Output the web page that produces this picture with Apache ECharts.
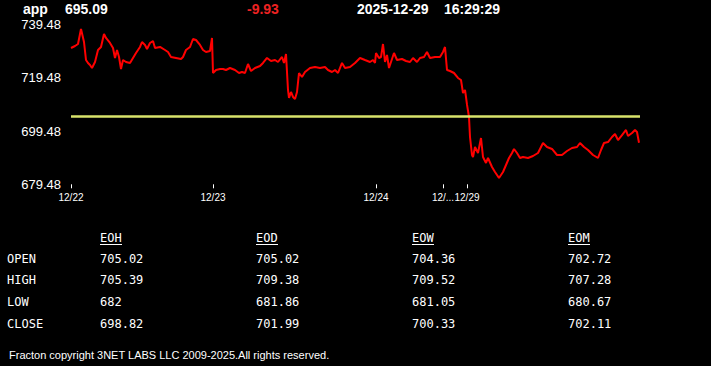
<!DOCTYPE html>
<html>
<head>
<meta charset="utf-8">
<script src="https://cdn.jsdelivr.net/npm/echarts@6/dist/echarts.min.js"></script>
<style>
html,body{margin:0;padding:0;background:#000;}
#chart{width:711px;height:366px;}
</style>
</head>
<body>
<div id="chart"></div>
<script>
// ---- header ----
const symbol = 'app';
const lastPrice = 695.09;
const change = -9.93;
const quoteDate = '2025-12-29';
const quoteTime = '16:29:29';
const prevClose = 705.02;

// ---- x axis: trading sample index, day boundaries ----
const dayLabels = ['12/22', '12/23', '12/24', '12/26', '12/29'];
const dayStart = [0, 142, 305, 372, 396];
const lastIndex = 569;

// ---- y axis ticks ----
const yTicks = [679.48, 699.48, 719.48, 739.48];

// ---- price series (sample index, price) ----
const sampleIdx = [
  0, 4, 7, 10, 13, 15, 17, 19, 21, 24, 27, 30, 33, 35, 39, 42, 44, 46, 48, 50, 52, 55, 59, 62, 65, 69, 71, 74, 76, 79, 82, 84, 89, 94, 97, 100, 105, 110, 112, 115, 119, 122, 125, 129, 132, 135, 139, 141,
  142, 145, 149, 152, 155, 159, 164, 168, 171, 174, 177, 180, 184, 189, 192, 196, 200, 204, 207, 211, 213, 215, 217, 218, 220, 222, 224, 226, 228, 231, 234, 239, 244, 249, 254, 257, 261, 264, 267, 271, 274, 279, 284, 289, 294, 299, 302, 304,
  305, 308, 310, 312, 314, 316, 318, 320, 323, 326, 331, 335, 339, 342, 346, 349, 353, 356, 359, 364, 369,
  372, 374, 376, 379, 383, 387, 390, 392, 394, 395,
  396, 398, 399, 401, 402, 404, 407, 410, 412, 415, 417, 421, 424, 428, 432, 435, 438, 441, 443, 446, 449, 452, 457, 462, 467, 472, 476, 481, 486, 491, 496, 501, 506, 509, 513, 517, 522, 527, 530, 533, 537, 541, 544, 547, 551, 555, 557, 561, 564, 566, 568
];
const price = [
  730.66, 731.41, 732.16, 737.80, 732.91, 726.15, 725.03, 724.28, 723.15, 725.40, 729.91, 731.04, 735.92, 734.42, 732.54, 730.66, 726.91, 729.91, 727.28, 722.78, 726.15, 725.40, 725.03, 726.91, 728.78, 731.04, 732.91, 731.79, 730.28, 732.54, 733.29, 730.66, 731.04, 729.91, 729.16, 727.28, 726.91, 726.53, 727.28, 729.91, 731.04, 734.04, 733.66, 731.79, 729.91, 729.16, 729.53, 734.42,
  721.27, 722.40, 722.78, 722.78, 722.40, 723.15, 722.40, 721.27, 721.65, 721.27, 724.65, 722.02, 723.15, 723.90, 725.03, 726.91, 725.78, 726.15, 725.40, 727.28, 725.03, 728.41, 714.89, 711.89, 714.14, 712.26, 711.51, 714.14, 721.27, 719.77, 721.65, 723.15, 723.53, 723.15, 723.53, 722.40, 721.65, 722.40, 721.27, 725.03, 723.15, 723.53, 725.03, 726.91, 726.15, 725.40, 726.15, 725.03,
  728.78, 726.91, 727.28, 732.16, 725.40, 728.03, 723.15, 725.40, 728.78, 726.15, 726.53, 725.78, 725.40, 726.91, 725.40, 726.91, 727.28, 729.16, 726.91, 727.28, 727.28,
  729.16, 731.04, 722.40, 722.02, 721.27, 719.40, 718.64, 713.76, 714.89, 712.26,
  709.38, 704.75, 697.24, 690.48, 689.73, 693.49, 691.23, 696.87, 689.73, 687.48, 689.36, 685.98, 684.10, 681.86, 684.10, 686.73, 689.36, 691.23, 692.74, 691.23, 689.36, 689.73, 689.36, 690.11, 691.23, 694.99, 693.49, 692.74, 690.48, 690.48, 691.98, 693.11, 693.49, 694.99, 693.49, 692.36, 690.48, 689.36, 692.36, 694.99, 695.36, 697.24, 698.37, 696.11, 697.99, 699.87, 697.62, 698.74, 699.87, 699.12, 695.09
];

// ---- summary table ----
const tableCols = ['EOH', 'EOD', 'EOW', 'EOM'];
const rowLabels = ['OPEN', 'HIGH', 'LOW', 'CLOSE'];
const eoh = [705.02, 705.39, 682, 698.82];
const eod = [705.02, 709.38, 681.86, 701.99];
const eow = [704.36, 709.52, 681.05, 700.33];
const eom = [702.72, 707.28, 680.67, 702.11];
const tableValues = [eoh, eod, eow, eom];

const footer = 'Fracton copyright 3NET LABS LLC 2009-2025.All rights reserved.';

// ---- build ----
const sans = '"Liberation Sans", Arial, sans-serif';
const mono = '"DejaVu Sans Mono", "Liberation Mono", monospace';

const graphics = [];
function txt(text, x, y, opts) {
  graphics.push({
    type: 'text', left: x, top: y, silent: true,
    style: Object.assign({ text: text, fill: '#ffffff', font: '13px ' + sans, textVerticalAlign: 'middle' }, opts || {})
  });
}
// header
const hdrFont = 'bold 14px ' + sans;
txt(symbol, 23, 2, { font: hdrFont, textVerticalAlign: 'top' });
txt(lastPrice.toFixed(2), 65, 2, { font: hdrFont, textVerticalAlign: 'top' });
txt(change.toFixed(2), 247, 2, { font: hdrFont, fill: '#ee2222', textVerticalAlign: 'top' });
txt(quoteDate, 357, 2, { font: hdrFont, textVerticalAlign: 'top' });
txt(quoteTime, 444, 2, { font: hdrFont, textVerticalAlign: 'top' });

// table
const colX = [100, 256, 412, 568];
const rowY = [253, 274, 296, 318];
tableCols.forEach((c, i) => {
  txt(c, colX[i], 232, { font: '12px ' + mono, textVerticalAlign: 'top' });
  graphics.push({ type: 'line', silent: true, shape: { x1: colX[i], y1: 244.5, x2: colX[i] + 22, y2: 244.5 }, style: { stroke: '#ffffff', lineWidth: 1 } });
});
rowLabels.forEach((r, j) => {
  txt(r, 7, rowY[j], { font: '12px ' + mono, textVerticalAlign: 'top' });
  tableValues.forEach((vals, i) => {
    txt(String(vals[j]), colX[i], rowY[j], { font: '12px ' + mono, textVerticalAlign: 'top' });
  });
});
// footer
txt(footer, 9, 349, { font: '11px ' + sans, textVerticalAlign: 'top' });

const chart = echarts.init(document.getElementById('chart'), null, { renderer: 'svg' });
chart.setOption({
  backgroundColor: '#000000',
  animation: false,
  grid: { left: 71, right: 71, top: 24.5, bottom: 181.7, containLabel: false },
  xAxis: {
    type: 'value', min: 0, max: lastIndex,
    axisLine: { show: false },
    splitLine: { show: false },
    axisTick: { show: true, length: 4, lineStyle: { color: '#ffffff', width: 1 }, customValues: dayStart },
    axisLabel: {
      color: '#ffffff', fontSize: 10, fontFamily: sans, margin: 8,
      customValues: dayStart,
      formatter: function (v) {
        const i = dayStart.indexOf(v);
        if (i < 0) return '';
        if (i < dayStart.length - 1 && dayStart[i + 1] - v < 30) return dayLabels[i].slice(0, 3) + '...';
        return dayLabels[i];
      }
    }
  },
  yAxis: {
    type: 'value', min: yTicks[0], max: yTicks[yTicks.length - 1],
    axisLine: { show: false },
    axisTick: { show: false },
    splitLine: { show: false },
    axisLabel: {
      color: '#ffffff', fontSize: 13, fontFamily: sans, margin: 10,
      customValues: yTicks,
      formatter: function (v) { return v.toFixed(2); }
    }
  },
  series: [{
    type: 'line',
    data: sampleIdx.map((x, i) => [x, price[i]]),
    showSymbol: false,
    lineStyle: { color: '#ff0000', width: 2 },
    markLine: {
      silent: true, symbol: 'none', label: { show: false },
      lineStyle: { color: '#d9e36b', width: 2.5, type: 'solid' },
      data: [{ yAxis: prevClose }]
    }
  }],
  graphic: graphics
});
</script>
</body>
</html>
